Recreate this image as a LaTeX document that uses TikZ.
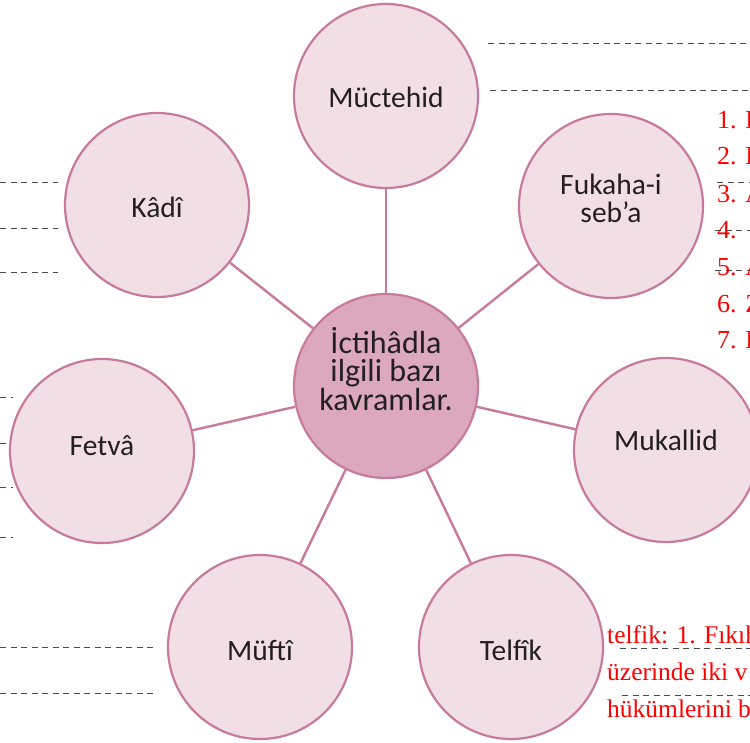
\documentclass[tikz,border=0pt]{standalone}
\usepackage{fontspec}
\setmainfont{Carlito}
\newfontfamily\redserif{Liberation Serif}
\definecolor{edgepink}{HTML}{C77A9B}
\definecolor{lightpink}{HTML}{F2DFE6}
\definecolor{midpink}{HTML}{DBA8BD}
\definecolor{dashgray}{HTML}{4A4A4A}
\definecolor{redtext}{HTML}{FF0000}
\definecolor{inktext}{HTML}{231F20}
\begin{document}
\begin{tikzpicture}[x=1pt,y=-1pt,
  bubble/.style={circle,draw=edgepink,line width=2.2pt,fill=lightpink,minimum size=184pt,inner sep=0pt},
  hub/.style={bubble,fill=midpink},
  lbl/.style={font=\fontsize{29.5}{27.5}\selectfont,text=inktext,align=center,inner sep=0pt,anchor=base},
  hublbl/.style={lbl,font=\fontsize{32}{27.5}\selectfont},
  link/.style={draw=edgepink,line width=2.4pt},
  guide/.style={draw=dashgray,line width=1pt,dash pattern=on 6pt off 4.5pt},
  note/.style={font=\redserif\fontsize{26}{30}\selectfont,text=redtext,anchor=base west,inner sep=0pt},
  longnote/.style={note,font=\redserif\fontsize{25.5}{30}\selectfont}]
\useasboundingbox (0,0) rectangle (750,742);
\begin{scope}
\clip (0,0) rectangle (750,742);
% guide lines
\draw[guide] (488,43) -- (750,43);
\draw[guide] (490,90) -- (750,90);
\draw[guide] (717,182) -- (750,182);
\draw[guide] (715,230) -- (750,230);
\draw[guide] (715,270) -- (750,270);
\draw[guide] (0,182) -- (58,182);
\draw[guide] (0,228) -- (58,228);
\draw[guide] (0,272) -- (58,272);
\draw[guide] (0,397) -- (13,397);
\draw[guide] (0,443) -- (13,443);
\draw[guide] (0,487) -- (13,487);
\draw[guide] (0,537) -- (13,537);
\draw[guide] (0,647) -- (155,647);
\draw[guide] (0,693) -- (155,693);
\draw[guide] (620,648) -- (750,648);
\draw[guide] (622,695) -- (750,695);
% circles
\node[hub] (hub) at (386,386) {};
\node[bubble] (muc) at (386,96) {};
\node[bubble] (kad) at (157,205) {};
\node[bubble] (fuk) at (611,206) {};
\node[bubble] (fet) at (102,451) {};
\node[bubble] (muk) at (666,450) {};
\node[bubble] (muf) at (260,647) {};
\node[bubble] (tel) at (511,647) {};
% connectors
\path[link] (hub) -- (muc);
\path[link] (hub) -- (kad);
\path[link] (hub) -- (fuk);
\path[link] (hub) -- (fet);
\path[link] (hub) -- (muk);
\path[link] (hub) -- (muf);
\path[link] (hub) -- (tel);
% labels (base anchor = last line)
\node[hublbl] (thub) at (386,410) {İctihâdla\\ilgili bazı\\kavramlar.};
\node[lbl] (tmuc) at (386,107) {Müctehid};
\node[lbl] (tkad) at (157,217) {Kâdî};
\node[lbl] (tfuk) at (611,222) {Fukaha-i\\seb’a};
\node[lbl] (tfet) at (102,455) {Fetvâ};
\node[lbl] (tmuk) at (666,450) {Mukallid};
\node[lbl] (tmuf) at (260,660) {Müftî};
\node[lbl] (ttel) at (511,660) {Telfîk};
% red notes
\node[note] (n1) at (717,128) {1. H};
\node[note] (n2) at (717,164) {2. H};
\node[note] (n3) at (717,202) {3. A};
\node[note] (n4) at (717,238) {4.};
\node[note] (n5) at (717,275) {5. A};
\node[note] (n6) at (717,312) {6. Z};
\node[note] (n7) at (717,348) {7. H};
\node[longnote] (b1) at (607,643) {telfik: 1. Fıkıh};
\node[longnote] (b2) at (607,680) {üzerinde iki v};
\node[longnote] (b3) at (607,717) {hükümlerini b};
\end{scope}
\end{tikzpicture}
\end{document}
